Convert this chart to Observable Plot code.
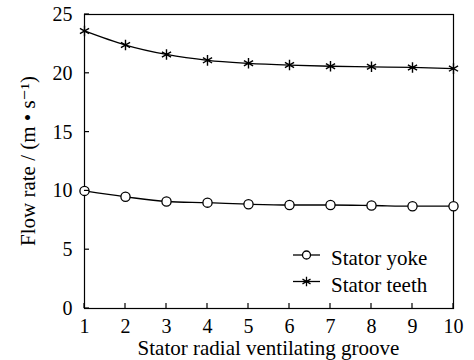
<!DOCTYPE html>
<html><head><meta charset="utf-8">
<script src="https://cdn.jsdelivr.net/npm/d3@7"></script>
<script src="https://cdn.jsdelivr.net/npm/@observablehq/plot@0.6"></script>
<style>
body{margin:0;background:#fff;}
#chart{position:relative;width:474px;height:360px;}
</style></head>
<body><div id="chart"></div>
<script>
const grooves = [1,2,3,4,5,6,7,8,9,10];
const yokeValues = [10.0, 9.5, 9.1, 9.0, 8.87, 8.8, 8.8, 8.76, 8.7, 8.7];
const teethValues = [23.6, 22.4, 21.6, 21.1, 20.85, 20.7, 20.6, 20.55, 20.5, 20.4];
const seriesNames = ["Stator yoke", "Stator teeth"];
const xTicks = [1,2,3,4,5,6,7,8,9,10];
const yTicks = [0,5,10,15,20,25];
const xLabel = "Stator radial ventilating groove";
const yLabel = "Flow rate / (m \u2022 s\u207B\u00B9)";
const FONT = "'Liberation Serif', 'DejaVu Serif', serif";

const yoke = grooves.map((g,i)=>({x:g, y:yokeValues[i]}));
const teeth = grooves.map((g,i)=>({x:g, y:teethValues[i]}));

const plot = Plot.plot({
  width: 474, height: 360,
  marginLeft: 84, marginRight: 21, marginTop: 14, marginBottom: 52,
  style: {fontFamily: FONT, fontSize: "20px", color: "#000", background: "#fff"},
  x: {domain: [1,10], ticks: xTicks},
  y: {domain: [0,25], ticks: yTicks},
  marks: [
    Plot.frame({stroke: "#000", strokeWidth: 1.2}),
    Plot.axisX({ticks: xTicks, tickSize: 0, tickPadding: 10, fontSize: 20, label: null}),
    Plot.axisY({ticks: yTicks, tickSize: 0, tickPadding: 12, fontSize: 20, label: null}),
    Plot.line(yoke, {x:"x", y:"y", curve:"monotone-x", stroke:"#000", strokeWidth:1.3}),
    Plot.dot(yoke, {x:"x", y:"y", r:4.6, stroke:"#000", fill:"#fff", strokeWidth:1.3}),
    Plot.line(teeth, {x:"x", y:"y", curve:"monotone-x", stroke:"#000", strokeWidth:1.3}),
    Plot.dot(teeth, {x:"x", y:"y", r:5, symbol:"asterisk", stroke:"#000", strokeWidth:1.4})
  ]
});
document.getElementById("chart").appendChild(plot);

const svg = d3.select(plot);
svg.selectAll("g[aria-label='x-axis tick label'] text, g[aria-label='y-axis tick label'] text").classed("ticklab", true);
const sx = plot.scale("x"), sy = plot.scale("y");
const g = svg.append("g").attr("stroke","#000").attr("stroke-width",1.2);
const yb = sy.apply(0), xl = sx.apply(1);
xTicks.forEach(t=>{ g.append("line").attr("x1",sx.apply(t)).attr("x2",sx.apply(t)).attr("y1",yb).attr("y2",yb-5); });
yTicks.forEach(t=>{ g.append("line").attr("x1",xl).attr("x2",xl+5).attr("y1",sy.apply(t)).attr("y2",sy.apply(t)); });

svg.append("text").attr("x",(sx.apply(1)+sx.apply(10))/2).attr("y",355).attr("text-anchor","middle").text(xLabel);
svg.append("text").attr("transform",`translate(35,${(sy.apply(0)+sy.apply(25))/2}) rotate(-90)`)
  .attr("text-anchor","middle").text(yLabel);

const leg = svg.append("g").attr("text-anchor","start");
seriesNames.forEach((name,i)=>{
  const cy = 255 + i*26.5;
  leg.append("line").attr("x1",293).attr("x2",320).attr("y1",cy).attr("y2",cy).attr("stroke","#000").attr("stroke-width",1.3);
  if(i===0){
    leg.append("circle").attr("cx",306.5).attr("cy",cy).attr("r",4).attr("fill","#fff").attr("stroke","#000").attr("stroke-width",1.3);
  } else {
    leg.append("path").attr("transform",`translate(306.5,${cy})`).attr("d",d3.symbol(d3.symbolAsterisk,60)()).attr("stroke","#000").attr("stroke-width",1.3);
  }
  leg.append("text").attr("x",331).attr("y",cy+10).attr("text-anchor","start").text(name);
});
svg.selectAll("text").style("font-family", FONT).style("font-size","21px").style("fill","#000");
svg.selectAll("text.ticklab").style("font-size","20px");
</script></body></html>
